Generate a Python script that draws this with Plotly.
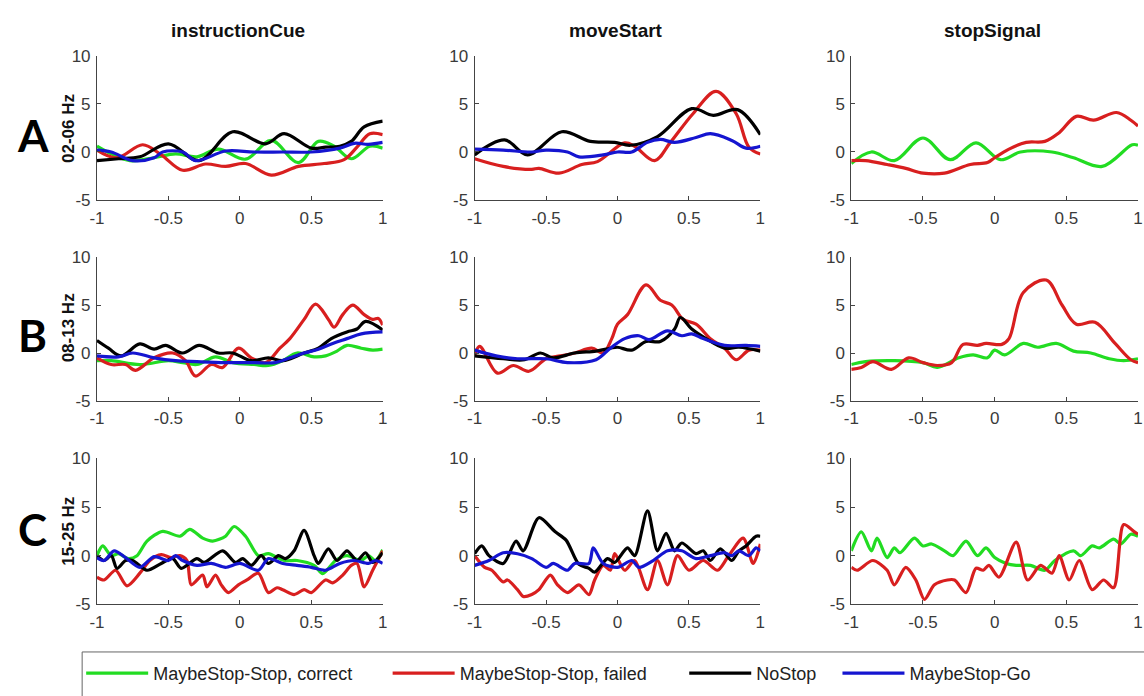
import plotly.graph_objects as go

# ---------------------------------------------------------------------------
# Data: time (s) and power change for each condition, per event and band
# ---------------------------------------------------------------------------
x_ticks = [-1, -0.5, 0, 0.5, 1]
x_tick_labels = ["-1", "-0.5", "0", "0.5", "1"]
y_ticks = [-5, 0, 5, 10]
y_tick_labels = ["-5", "0", "5", "10"]

events = ["instructionCue", "moveStart", "stopSignal"]
bands = ["02-06 Hz", "08-13 Hz", "15-25 Hz"]
row_letters = ["A", "B", "C"]
conditions = ["MaybeStop-Stop, correct", "MaybeStop-Stop, failed", "NoStop", "MaybeStop-Go"]

# --- 02-06 Hz, instructionCue
cueA_green_t = [-1, -0.9, -0.77, -0.6, -0.45, -0.3, -0.15, 0.04, 0.22, 0.41, 0.55, 0.66, 0.78, 0.91, 1]
cueA_green_v = [0.6, -0.2, -0.9, -0.6, -0.2, -0.5, 0.3, -0.75, 1.2, -1.1, 1.1, 0.6, -0.7, 0.6, 0.4]
cueA_red_t = [-1, -0.86, -0.68, -0.55, -0.4, -0.24, -0.1, 0.04, 0.22, 0.41, 0.59, 0.73, 0.82, 0.91, 1]
cueA_red_v = [0.2, -0.6, 0.75, -0.3, -1.9, -1.25, -1.5, -1.2, -2.4, -1.5, -1.2, -0.8, 0.5, 1.9, 1.8]
cueA_black_t = [-1, -0.85, -0.7, -0.5, -0.285, -0.05, 0.18, 0.31, 0.5, 0.6, 0.7, 0.78, 0.87, 1]
cueA_black_v = [-0.9, -0.7, -0.5, 0.85, -0.9, 2.1, 0.85, 1.9, 0.4, 0.5, 0.6, 1.1, 2.6, 3.2]
cueA_blue_t = [-1, -0.9, -0.75, -0.6, -0.54, -0.4, -0.31, -0.1, 0.1, 0.3, 0.5, 0.7, 0.8, 0.9, 1]
cueA_blue_v = [0.2, 0.0, -0.9, -0.6, 0.0, 0.0, -0.9, 0.1, 0.0, 0.0, 0.0, 0.4, 0.9, 0.8, 1.0]

# --- 02-06 Hz, moveStart
moveA_red_t = [-1, -0.8, -0.6, -0.55, -0.41, -0.25, -0.14, 0.05, 0.12, 0.26, 0.37, 0.53, 0.69, 0.83, 0.92, 1]
moveA_red_v = [-0.7, -1.5, -1.8, -1.7, -2.2, -1.3, -1.0, 0.95, 0.6, -0.9, 1.0, 4.0, 6.3, 4.0, 0.5, -0.2]
moveA_black_t = [-1, -0.79, -0.63, -0.39, -0.19, -0.02, 0.09, 0.28, 0.52, 0.67, 0.84, 1]
moveA_black_v = [-0.3, 1.25, -0.3, 2.1, 1.1, 1.0, 0.7, 1.6, 4.5, 3.8, 4.4, 1.8]
moveA_blue_t = [-1, -0.8, -0.6, -0.5, -0.35, -0.27, -0.1, 0.0, 0.1, 0.21, 0.3, 0.4, 0.55, 0.65, 0.8, 0.9, 1]
moveA_blue_v = [0.3, 0.2, 0.0, 0.2, 0.0, -0.5, -0.3, 0.0, 0.0, 1.0, 1.3, 1.0, 1.5, 1.9, 1.2, 0.4, 0.6]

# --- 02-06 Hz, stopSignal
stopA_green_t = [-1, -0.86, -0.7, -0.5, -0.31, -0.13, 0.04, 0.18, 0.4, 0.55, 0.75, 0.96, 1]
stopA_green_v = [-1.2, 0.0, -0.9, 1.45, -0.8, 0.95, -0.8, 0.0, 0.0, -0.6, -1.5, 0.75, 0.7]
stopA_red_t = [-1, -0.9, -0.75, -0.62, -0.5, -0.35, -0.17, -0.05, 0.0, 0.1, 0.22, 0.35, 0.45, 0.57, 0.69, 0.85, 0.95, 1]
stopA_red_v = [-0.9, -0.9, -1.3, -1.7, -2.2, -2.2, -1.3, -1.1, -0.6, 0.3, 1.0, 1.1, 2.0, 3.7, 3.3, 4.1, 3.3, 2.7]

# --- 08-13 Hz, instructionCue
cueB_green_t = [-1, -0.9, -0.7, -0.5, -0.4, -0.3, -0.17, -0.05, 0.1, 0.2, 0.3, 0.4, 0.52, 0.6, 0.68, 0.75, 0.85, 0.93, 1]
cueB_green_v = [-0.8, -0.8, -1.2, -0.8, -1.0, -1.2, -0.4, -1.0, -1.2, -1.3, -0.8, 0.0, -0.4, -0.3, 0.2, 0.8, 0.5, 0.3, 0.4]
cueB_red_t = [-1, -0.9, -0.8, -0.73, -0.6, -0.47, -0.38, -0.31, -0.2, -0.12, -0.01, 0.08, 0.18, 0.28, 0.35,
              0.45, 0.53, 0.62, 0.66, 0.72, 0.79, 0.87, 0.93, 0.97, 1]
cueB_red_v = [-0.5, -1.2, -1.2, -1.8, -0.5, 0.0, -0.8, -2.4, -1.2, -1.5, 0.5, -0.5, -1.0, 0.5, 1.5,
              3.5, 5.1, 3.5, 2.7, 4.0, 5.0, 4.0, 3.5, 3.6, 2.9]
cueB_black_t = [-1, -0.92, -0.83, -0.7, -0.6, -0.52, -0.4, -0.285, -0.15, -0.05, 0.08, 0.2, 0.3, 0.45,
                0.55, 0.64, 0.75, 0.82, 0.88, 1]
cueB_black_v = [1.3, 0.5, -0.3, 0.95, 0.4, 0.8, 0.0, 0.8, 0.0, 0.0, -0.8, -0.5, -0.8, 0.0,
                0.5, 1.5, 2.2, 2.5, 3.3, 2.4]
cueB_blue_t = [-1, -0.85, -0.75, -0.6, -0.45, -0.3, -0.1, 0.1, 0.25, 0.35, 0.45, 0.55, 0.65, 0.75, 0.85, 1]
cueB_blue_v = [-0.3, -0.4, 0.0, -0.5, -0.8, -0.9, -1.0, -1.0, -1.0, -0.5, 0.0, 0.4, 1.0, 1.5, 2.0, 2.2]

# --- 08-13 Hz, moveStart
moveB_red_t = [-1, -0.965, -0.84, -0.73, -0.62, -0.5, -0.4, -0.3, -0.18, -0.1, -0.04, 0.0, 0.07, 0.2,
               0.3, 0.38, 0.46, 0.55, 0.65, 0.75, 0.83, 0.92, 1]
moveB_red_v = [-0.3, 0.7, -2.1, -1.3, -1.9, -0.6, -0.3, 0.0, 0.5, 0.0, 1.5, 3.0, 4.0, 7.1,
               5.5, 5.0, 3.5, 3.0, 1.5, 0.5, -0.7, 0.3, 0.3]
moveB_black_t = [-1, -0.8, -0.65, -0.54, -0.45, -0.3, -0.15, -0.05, 0.0, 0.1, 0.2, 0.3, 0.4, 0.44,
                 0.52, 0.62, 0.75, 0.85, 1]
moveB_black_v = [-0.3, -0.6, -0.7, 0.0, -0.5, 0.0, 0.2, 0.5, 0.6, 0.3, 1.2, 1.2, 2.5, 3.7,
                 2.5, 1.5, 0.5, 0.6, 0.2]
moveB_blue_t = [-1, -0.85, -0.7, -0.5, -0.35, -0.15, -0.05, 0.05, 0.15, 0.22, 0.35, 0.45, 0.52, 0.6, 0.75, 0.9, 1]
moveB_blue_v = [0.3, -0.3, -0.6, -0.6, -1.0, -0.7, 0.5, 1.5, 1.8, 1.4, 2.3, 1.8, 2.0, 1.5, 0.8, 0.8, 0.7]

# --- 08-13 Hz, stopSignal
stopB_green_t = [-1, -0.9, -0.7, -0.5, -0.4, -0.25, -0.15, -0.05, 0.0, 0.07, 0.2, 0.3, 0.43, 0.55, 0.67, 0.8, 0.9, 1]
stopB_green_v = [-1.2, -0.9, -0.8, -1.0, -1.5, -0.5, -0.2, -0.5, 0.3, -0.2, 1.0, 0.6, 1.0, 0.2, 0.0, -0.6, -0.8, -0.6]
stopB_red_t = [-1, -0.93, -0.85, -0.72, -0.6, -0.5, -0.4, -0.3, -0.22, -0.12, -0.06, 0.05, 0.1, 0.2,
               0.36, 0.47, 0.57, 0.7, 0.84, 0.95, 1]
stopB_red_v = [-1.7, -1.5, -0.9, -1.7, -0.5, -1.0, -1.3, -1.0, 0.9, 0.8, 1.0, 0.9, 1.5, 6.3,
               7.6, 5.0, 3.0, 3.2, 1.0, -0.7, -1.0]

# --- 15-25 Hz, instructionCue
cueC_green_t = [-1, -0.96, -0.9, -0.85, -0.78, -0.72, -0.65, -0.54, -0.42, -0.35, -0.26, -0.19, -0.1, -0.04,
                0.04, 0.13, 0.2, 0.31, 0.4, 0.52, 0.58, 0.67, 0.75, 0.85, 0.9, 0.95, 1]
cueC_green_v = [0.0, 1.0, 0.0, 0.2, -0.3, 0.0, 1.5, 2.5, 2.0, 2.7, 1.8, 1.5, 2.0, 3.0,
                2.0, 0.0, 0.2, -0.5, -0.5, -1.0, -1.85, -0.5, 0.0, -0.5, 0.0, -0.5, 0.6]
cueC_red_t = [-1, -0.95, -0.87, -0.79, -0.7, -0.63, -0.55, -0.48, -0.42, -0.37, -0.34, -0.26, -0.23, -0.17,
              -0.13, -0.08, -0.01, 0.05, 0.13, 0.2, 0.26, 0.3, 0.38, 0.45, 0.5, 0.6, 0.65, 0.72, 0.78,
              0.82, 0.87, 0.93, 1]
cueC_red_v = [-2.2, -2.5, -1.5, -3.1, -1.8, -0.5, 0.1, -0.2, 0.0, -0.5, -3.0, -2.0, -3.2, -2.0,
              -3.0, -3.8, -3.0, -2.5, -1.8, -3.8, -3.3, -3.5, -4.0, -3.5, -3.8, -2.5, -2.8, -2.0, -1.0,
              -0.8, -3.2, -1.5, 0.5]
cueC_black_t = [-1, -0.95, -0.9, -0.86, -0.8, -0.75, -0.65, -0.55, -0.47, -0.41, -0.3, -0.25, -0.12, -0.03,
                0.02, 0.08, 0.15, 0.2, 0.27, 0.32, 0.38, 0.45, 0.52, 0.55, 0.62, 0.68, 0.75, 0.82, 0.88,
                0.93, 1]
cueC_black_v = [0.0, -0.5, 0.0, -1.3, -0.5, -0.5, -1.5, -0.8, -0.3, -1.3, -0.3, -0.7, 0.5, -0.7,
                -0.3, -1.0, 0.0, -0.8, 0.0, -0.3, 0.5, 2.6, 0.0, -0.8, 0.7, -0.5, 0.5, -0.5, 0.3,
                -0.7, 0.3]
cueC_blue_t = [-1, -0.95, -0.88, -0.8, -0.7, -0.6, -0.5, -0.45, -0.4, -0.3, -0.2, -0.1, 0.0, 0.13,
               0.2, 0.3, 0.4, 0.5, 0.6, 0.7, 0.8, 0.9, 0.95, 1]
cueC_blue_v = [-0.2, -0.5, 0.5, -0.2, -1.2, -0.1, -0.5, 0.0, -0.5, -1.0, -0.8, -1.2, -0.8, -1.5,
               -0.3, -0.8, -1.0, -1.2, -1.5, -0.8, -0.5, -0.8, -0.5, -0.8]

# --- 15-25 Hz, moveStart
moveC_red_t = [-1, -0.93, -0.88, -0.8, -0.77, -0.7, -0.66, -0.6, -0.55, -0.47, -0.42, -0.35, -0.27, -0.2,
               -0.16, -0.1, -0.05, -0.02, 0.05, 0.12, 0.21, 0.28, 0.35, 0.42, 0.5, 0.6, 0.7, 0.77, 0.88,
               0.95, 1]
moveC_red_v = [0.0, -1.2, -1.5, -2.7, -2.5, -3.5, -4.2, -4.0, -3.5, -2.0, -3.0, -3.8, -3.0, -4.0,
               -2.5, -1.0, -1.5, 0.2, -1.5, -0.5, -3.5, -0.5, -3.0, 0.0, -1.5, -0.5, -1.5, -0.2, 1.8,
               -0.8, 1.2]
moveC_black_t = [-1, -0.95, -0.9, -0.8, -0.71, -0.66, -0.55, -0.44, -0.36, -0.27, -0.2, -0.16, -0.07, -0.02,
                 0.07, 0.12, 0.21, 0.28, 0.34, 0.4, 0.45, 0.55, 0.6, 0.65, 0.72, 0.8, 0.85, 0.9, 0.97, 1]
moveC_black_v = [0.2, 1.0, 0.0, -0.8, 1.5, 0.5, 3.9, 2.5, 1.6, -0.9, -1.3, -1.7, -0.3, -0.7,
                 0.8, 0.0, 4.6, 0.5, 2.3, 0.5, 1.3, 0.2, 0.5, -0.5, 0.7, -0.5, 0.5, 1.0, 2.0, 2.0]
moveC_blue_t = [-1, -0.9, -0.8, -0.7, -0.6, -0.5, -0.45, -0.35, -0.3, -0.2, -0.17, -0.1, 0.0, 0.1,
                0.15, 0.25, 0.35, 0.45, 0.55, 0.65, 0.75, 0.8, 0.85, 0.92, 0.97, 1]
moveC_blue_v = [-1.0, -0.5, 0.3, 0.2, -0.3, -1.2, -0.8, -1.5, -0.8, -0.8, 0.8, -0.8, -1.2, -0.5,
                -1.2, -0.5, 0.5, 0.5, -0.3, 0.0, 0.3, 0.0, 0.5, 0.0, 0.8, 0.5]

# --- 15-25 Hz, stopSignal
stopC_green_t = [-1, -0.93, -0.86, -0.82, -0.75, -0.7, -0.66, -0.56, -0.5, -0.44, -0.35, -0.29, -0.2, -0.12,
                 -0.06, 0.0, 0.08, 0.15, 0.25, 0.35, 0.42, 0.55, 0.6, 0.68, 0.73, 0.83, 0.88, 0.95, 1]
stopC_green_v = [0.5, 2.45, 0.5, 1.8, -0.2, 0.8, 0.3, 1.8, 1.0, 1.2, 0.5, 0.0, 1.5, 0.0,
                 0.8, -0.2, -0.8, -1.0, -1.0, -1.5, -0.5, 0.5, 0.0, 1.0, 0.8, 1.7, 1.2, 2.2, 2.0]
stopC_red_t = [-1, -0.96, -0.85, -0.75, -0.7, -0.62, -0.55, -0.49, -0.42, -0.33, -0.28, -0.2, -0.13, -0.08,
               -0.04, 0.03, 0.15, 0.23, 0.32, 0.4, 0.45, 0.52, 0.59, 0.68, 0.76, 0.83, 0.9, 0.97, 1]
stopC_red_v = [-1.2, -1.5, -0.5, -1.5, -3.0, -1.2, -2.5, -4.5, -3.0, -2.5, -2.5, -3.8, -1.3, -1.5,
               -1.0, -2.2, 1.4, -2.5, -1.0, -1.8, 0.0, -2.5, -0.5, -3.5, -2.5, -3.3, 3.2, 2.5, 2.2]

# ---------------------------------------------------------------------------
# Styling and layout
# ---------------------------------------------------------------------------
W, H = 1144, 696
line_colors = {"green": "#22dc22", "red": "#d81f1f", "black": "#000000", "blue": "#1515d0"}
color_order = ["green", "red", "black", "blue"]
legend_ids = {"green": "legend", "red": "legend2", "black": "legend3", "blue": "legend4"}

# (row, col) -> list of (color, times, values)
panels = {
    (0, 0): [("green", cueA_green_t, cueA_green_v), ("red", cueA_red_t, cueA_red_v),
             ("black", cueA_black_t, cueA_black_v), ("blue", cueA_blue_t, cueA_blue_v)],
    (0, 1): [("red", moveA_red_t, moveA_red_v), ("black", moveA_black_t, moveA_black_v),
             ("blue", moveA_blue_t, moveA_blue_v)],
    (0, 2): [("green", stopA_green_t, stopA_green_v), ("red", stopA_red_t, stopA_red_v)],
    (1, 0): [("green", cueB_green_t, cueB_green_v), ("red", cueB_red_t, cueB_red_v),
             ("black", cueB_black_t, cueB_black_v), ("blue", cueB_blue_t, cueB_blue_v)],
    (1, 1): [("red", moveB_red_t, moveB_red_v), ("black", moveB_black_t, moveB_black_v),
             ("blue", moveB_blue_t, moveB_blue_v)],
    (1, 2): [("green", stopB_green_t, stopB_green_v), ("red", stopB_red_t, stopB_red_v)],
    (2, 0): [("green", cueC_green_t, cueC_green_v), ("red", cueC_red_t, cueC_red_v),
             ("black", cueC_black_t, cueC_black_v), ("blue", cueC_blue_t, cueC_blue_v)],
    (2, 1): [("red", moveC_red_t, moveC_red_v), ("black", moveC_black_t, moveC_black_v),
             ("blue", moveC_blue_t, moveC_blue_v)],
    (2, 2): [("green", stopC_green_t, stopC_green_v), ("red", stopC_red_t, stopC_red_v)],
}

# pixel extents of the axes boxes
col_px = [(90, 379), (472, 761), (853, 1143)]
row_px = [(48, 196.5), (255, 403), (462, 612)]


def fx(p):
    return p / W


def fy(p):
    return 1 - p / H


tick_font = dict(family="Liberation Sans, Arial, sans-serif", size=17, color="#3a3a3a")
fig = go.Figure()
layout_axes = {}
shown = set()

for r in range(3):
    for c in range(3):
        k = r * 3 + c + 1
        xa = "xaxis" if k == 1 else f"xaxis{k}"
        ya = "yaxis" if k == 1 else f"yaxis{k}"
        xref = "x" if k == 1 else f"x{k}"
        yref = "y" if k == 1 else f"y{k}"
        layout_axes[xa] = dict(
            domain=[fx(col_px[c][0]), fx(col_px[c][1])], anchor=yref, range=[-1, 1],
            tickvals=x_ticks, ticktext=x_tick_labels, ticks="inside", ticklen=4,
            tickcolor="#444", showline=True, linecolor="#444", linewidth=1,
            showgrid=False, zeroline=False, tickfont=tick_font, ticklabelstandoff=2,
        )
        layout_axes[ya] = dict(
            domain=[fy(row_px[r][1]), fy(row_px[r][0])], anchor=xref, range=[-5, 10],
            tickvals=y_ticks, ticktext=y_tick_labels, ticks="inside", ticklen=4,
            tickcolor="#444", showline=True, linecolor="#444", linewidth=1,
            showgrid=False, zeroline=False, tickfont=tick_font, ticklabelstandoff=2,
        )
        smooth = 1.0 if r < 2 else 0.8
        for color, t, v in sorted(panels[(r, c)], key=lambda s: color_order.index(s[0])):
            name = conditions[color_order.index(color)]
            fig.add_trace(go.Scatter(
                x=t, y=v, mode="lines", name=name,
                line=dict(color=line_colors[color], width=3.2, shape="spline", smoothing=smooth),
                xaxis=xref, yaxis=yref,
                showlegend=color not in shown, legend=legend_ids[color],
            ))
            shown.add(color)

annotations = []
# column titles
for c, ev in enumerate(events):
    annotations.append(dict(
        text=f"<b>{ev}</b>", x=fx((col_px[c][0] + col_px[c][1]) / 2 - 2), y=fy(22),
        xref="paper", yref="paper", showarrow=False, xanchor="center", yanchor="middle",
        font=dict(family="Liberation Sans, Arial, sans-serif", size=19, color="#111"),
    ))
# row letters and band labels
letter_y = [130, 335, 535]
band_y = [123, 328, 537]
for r in range(3):
    annotations.append(dict(
        text=f"<b>{row_letters[r]}</b>", x=fx(25), y=fy(letter_y[r]), xref="paper", yref="paper",
        showarrow=False, xanchor="center", yanchor="middle",
        font=dict(family="Lato, Open Sans, sans-serif", size=44, color="#000"),
    ))
    annotations.append(dict(
        text=f"<b>{bands[r]}</b>", x=fx(61), y=fy(band_y[r]), xref="paper", yref="paper",
        showarrow=False, xanchor="center", yanchor="middle", textangle=-90,
        font=dict(family="Liberation Sans, Arial, sans-serif", size=17, color="#111"),
    ))

legend_font = dict(family="Liberation Sans, Arial, sans-serif", size=18, color="#222")
# left end of each legend line, in pixels
legend_x = {"legend": 88, "legend2": 398, "legend3": 698, "legend4": 853}
legends = {}
for lid, px in legend_x.items():
    legends[lid] = dict(
        x=fx(px - 14), y=fy(683), xanchor="left", yanchor="middle", orientation="h",
        font=legend_font, bgcolor="rgba(0,0,0,0)", borderwidth=0, itemwidth=62,
    )

fig.update_layout(
    width=W, height=H, margin=dict(l=0, r=0, t=0, b=0),
    paper_bgcolor="white", plot_bgcolor="white",
    annotations=annotations,
    shapes=[dict(type="rect", xref="paper", yref="paper", x0=fx(75), x1=1.05, y0=-0.1, y1=fy(661),
                 line=dict(color="#666", width=1), fillcolor="rgba(0,0,0,0)")],
    **layout_axes, **legends,
)

fig.write_html("out.html")
